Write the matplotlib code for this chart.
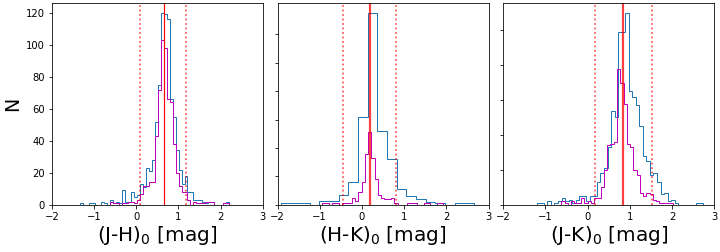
import numpy as np
import matplotlib
matplotlib.use("Agg")
import matplotlib.pyplot as plt

# ---- data (bin edges + counts per panel) ----
# panel 1: (J-H)0
jh_edges = np.linspace(-1.333, 2.206, 51)
jh_all = [1, 0, 0, 1, 1, 0, 0, 2, 1, 0,
          3, 1, 2, 1, 9, 2, 2, 8, 5, 6,
          13, 11, 23, 21, 28, 52, 75, 120, 119, 116,
          66, 55, 34, 22, 13, 18, 8, 8, 3, 3,
          3, 2, 1, 2, 2, 0, 0, 0, 1, 2]
jh_sel = [0, 0, 0, 0, 0, 0, 0, 0, 0, 0,
          2, 1, 1, 0, 1, 1, 2, 2, 1, 3,
          7, 12, 12, 14, 14, 43, 72, 103, 98, 66,
          64, 38, 20, 12, 8, 8, 3, 0, 2, 1,
          1, 1, 2, 2, 2, 0, 0, 0, 1, 1]
jh_mean, jh_lo, jh_hi = 0.647, 0.10, 1.168

# panel 2: (H-K)0
hk_edges = np.linspace(-1.93, 2.66, 21)
hk_all = [1, 1, 1, 0, 3, 3, 7, 16, 62, 135,
          52, 32, 11, 6, 4, 2, 1, 0, 1, 1]
hk_sel_edges = np.linspace(-0.935, 1.925, 38)
hk_sel = [1, 1, 0, 1, 1, 0, 1, 1, 1, 5,
          3, 9, 16, 36, 51, 33, 18, 7, 5, 4,
          4, 5, 1, 0, 0, 0, 1, 1, 1, 0,
          0, 1, 1, 0, 0, 1, 1]
hk_mean, hk_lo, hk_hi = 0.188, -0.454, 0.805

# panel 3: (J-K)0
jk_edges = np.linspace(-1.205, 2.732, 48)
jk_all = [1, 1, 0, 2, 0, 1, 2, 4, 2, 3,
          1, 3, 5, 5, 2, 5, 5, 13, 18, 21,
          33, 54, 50, 99, 99, 110, 65, 62, 57, 45,
          28, 25, 17, 18, 13, 6, 7, 2, 3, 1,
          0, 0, 0, 0, 0, 1, 1]
jk_sel_edges = np.linspace(-0.623, 2.012, 35)
jk_sel = [2, 1, 0, 2, 1, 1, 4, 1, 2, 1,
          4, 4, 10, 20, 34, 35, 36, 78, 70, 58,
          35, 33, 20, 17, 7, 5, 7, 6, 3, 2,
          1, 1, 1, 1]
jk_mean, jk_lo, jk_hi = 0.842, 0.173, 1.535

xlabels = [r'(J-H)$_0$ [mag]', r'(H-K)$_0$ [mag]', r'(J-K)$_0$ [mag]']

fig, axes = plt.subplots(1, 3, figsize=(10, 3.5), dpi=72)
fig.subplots_adjust(left=0.072, right=0.992, bottom=0.187, top=0.988, wspace=0.07)

panels = [
    (jh_edges, jh_all, jh_edges, jh_sel, jh_mean, jh_lo, jh_hi),
    (hk_edges, hk_all, hk_sel_edges, hk_sel, hk_mean, hk_lo, hk_hi),
    (jk_edges, jk_all, jk_sel_edges, jk_sel, jk_mean, jk_lo, jk_hi),
]

for i, (ax, p) in enumerate(zip(axes, panels)):
    e_all, c_all, e_sel, c_sel, mean, lo, hi = p
    ax.stairs(c_all, e_all, color='#1f77b4', lw=1)
    ax.stairs(c_sel, e_sel, color='m', lw=1)
    if i == 0:
        ax.axvline(mean, color='red', lw=1.2)
    else:
        ax.axvline(mean, color='red', lw=2.2, alpha=0.75)
    ax.axvline(lo, color='red', ls=':', lw=1.7, alpha=0.7)
    ax.axvline(hi, color='red', ls=':', lw=1.7, alpha=0.7)
    ax.set_xlim(-2, 3)
    ax.set_xticks([-2, -1, 0, 1, 2, 3])
    ax.set_xlabel(xlabels[i], fontsize=20, labelpad=2)
    ax.tick_params(labelsize=10)
    if i > 0:
        ax.tick_params(labelleft=False)

axes[0].set_ylabel('N', fontsize=19)
axes[1].set_ylim(0, 142)
axes[1].set_yticks(range(0, 121, 20))

fig.savefig('out.png', dpi=72)
